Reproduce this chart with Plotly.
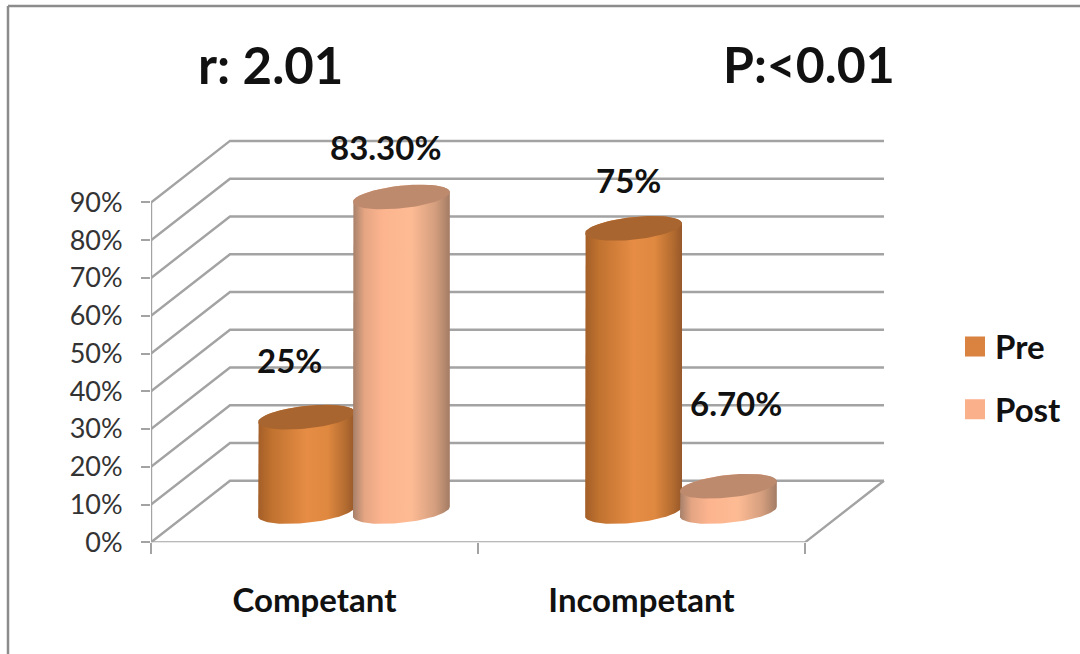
import numpy as np
import plotly.graph_objects as go

# ---- data ----
categories = ["Competant", "Incompetant"]
pre_values = [25, 75]
post_values = [83.3, 6.7]
pre_labels = ["25%", "75%"]
post_labels = ["83.30%", "6.70%"]
y_ticks = [0, 10, 20, 30, 40, 50, 60, 70, 80, 90]
y_tick_labels = [f"{v}%" for v in y_ticks]

# ---- 3D-look geometry (in axis units) ----
DX, DY = 0.2416, 16.3        # depth of the floor
BAR_OFF = 0.145              # bar centre offset from category centre
RX, RY, SH = 0.148, 3.0, 1.3 # ellipse radii and tilt
GRID = "#A3A3A3"
FONT = "Lato"
TXT = "#111111"

PRE = dict(name="Pre", swatch="#DA8240", top="#A9652F",
           scale=[[0, "#A35E28"], [0.14, "#C0722F"], [0.5, "#E68C45"], [0.72, "#DF8840"], [0.9, "#B46C30"], [1, "#98582A"]])
POST = dict(name="Post", swatch="#FBB08C", top="#BE8A6E",
            scale=[[0, "#A6806A"], [0.12, "#E5A583"], [0.3, "#FCB48E"], [0.6, "#FDBB94"], [0.85, "#D49E7E"], [1, "#A37C64"]])


def ellipse(cx, cy, t):
    return cx + RX * np.cos(t), cy + RY * np.sin(t) + SH * np.cos(t)


def cylinder(fig, cx, value, style):
    base = DY / 2
    top = base + value
    t_top = np.linspace(0, 2 * np.pi, 90)
    t_bot = np.linspace(0, -np.pi, 50)
    bx, by = ellipse(cx, base, t_bot)
    tx, ty = ellipse(cx, top, np.linspace(np.pi, 0, 50))
    fig.add_trace(go.Scatter(
        x=np.concatenate([bx, tx]), y=np.concatenate([by, ty]),
        mode="lines", line=dict(width=0), fill="toself",
        fillgradient=dict(type="horizontal", colorscale=style["scale"]),
        hoverinfo="skip", showlegend=False))
    ex, ey = ellipse(cx, top, t_top)
    fig.add_trace(go.Scatter(
        x=ex, y=ey, mode="lines", line=dict(width=0), fill="toself",
        fillcolor=style["top"], hoverinfo="skip", showlegend=False))


fig = go.Figure()

# back wall and floor grid
gx, gy = [], []
x_end = len(categories)
for v in y_ticks:
    gx += [0, DX, x_end + DX, None]
    gy += [v, v + DY, v + DY, None]
fig.add_trace(go.Scatter(x=gx, y=gy, mode="lines", line=dict(color=GRID, width=2.4),
                         hoverinfo="skip", showlegend=False))
# front axis lines and floor edge
fig.add_trace(go.Scatter(
    x=[0, 0, None, 0, x_end, x_end + DX],
    y=[y_ticks[-1], 0, None, 0, 0, DY],
    mode="lines", line=dict(color=GRID, width=2.4), hoverinfo="skip", showlegend=False))

for i in range(len(categories)):
    cylinder(fig, i + 0.5 - BAR_OFF + DX / 2, pre_values[i], PRE)
    cylinder(fig, i + 0.5 + BAR_OFF + DX / 2, post_values[i], POST)

# legend entries
for style in (PRE, POST):
    fig.add_trace(go.Scatter(
        x=[None], y=[None], mode="markers", name=style["name"], legendgroup=style["name"],
        marker=dict(symbol="square", size=16, color=style["swatch"],
                    line=dict(color=style["swatch"], width=4))))

# value labels, anchored on the bars
label_shift = {  # pixel nudges of the hand-placed labels
    "pre0": (-17, 57), "post0": (-16, 50), "pre1": (-5, 48), "post1": (8, 83)}
for i in range(len(categories)):
    for key, vals, labs, off in (("pre", pre_values, pre_labels, -BAR_OFF),
                                 ("post", post_values, post_labels, BAR_OFF)):
        sx, sy = label_shift[f"{key}{i}"]
        fig.add_annotation(x=i + 0.5 + off + DX / 2, y=vals[i] + DY / 2, text=labs[i],
                           xref="x", yref="y", showarrow=False, xshift=sx, yshift=sy,
                           font=dict(family=FONT, size=33, color=TXT, weight=700))

# headline texts
fig.add_annotation(x=270 / 1080, y=1 - 64 / 654, xref="paper", yref="paper", text="r: 2.01",
                   xanchor="center", yanchor="middle",
                   showarrow=False, font=dict(family=FONT, size=51, color=TXT, weight=700))
fig.add_annotation(x=809 / 1080, y=1 - 64 / 654, xref="paper", yref="paper", text="P:<0.01",
                   xanchor="center", yanchor="middle",
                   showarrow=False, font=dict(family=FONT, size=50, color=TXT, weight=700))

# picture frame
fig.add_shape(type="line", xref="paper", yref="paper", x0=8 / 1080, x1=8 / 1080, y0=0, y1=1 - 6 / 654,
              line=dict(color="#8C8C8C", width=2.5))
fig.add_shape(type="line", xref="paper", yref="paper", x0=8 / 1080, x1=1, y0=1 - 6 / 654, y1=1 - 6 / 654,
              line=dict(color="#8C8C8C", width=2.5))

fig.update_layout(
    autosize=False,
    width=1080, height=670, margin=dict(l=0, r=0, t=0, b=0),
    paper_bgcolor="white", plot_bgcolor="white",
    font=dict(family=FONT, color=TXT),
    legend=dict(x=955 / 1080, y=1 - 318 / 654, xanchor="left", yanchor="top",
                font=dict(family=FONT, size=33, color=TXT, weight=700),
                tracegroupgap=17, itemsizing="trace", bgcolor="rgba(0,0,0,0)"),
    xaxis=dict(domain=[151 / 1080, 890 / 1080], range=[0, 2.26], showgrid=False, zeroline=False,
               tickvals=[0.5, 1.5], ticktext=categories, ticks="", ticklabelstandoff=36,
               tickfont=dict(family=FONT, size=33, color=TXT, weight=700),
               minor=dict(tickvals=[0, 1, 2], ticks="outside", ticklen=11, tickwidth=2.4, tickcolor=GRID)),
    yaxis=dict(domain=[(654 - 541.5) / 654, (654 - 134.3) / 654], range=[0, 108], showgrid=False, zeroline=False,
               tickvals=y_ticks, ticktext=y_tick_labels, ticks="outside", ticklen=9, tickwidth=2.4,
               tickcolor=GRID, ticklabelstandoff=13,
               tickfont=dict(family=FONT, size=27, color="#333333")),
)

fig.write_html("out.html", config=dict(responsive=False, displayModeBar=False),
               post_script="document.body.style.margin='0';")
